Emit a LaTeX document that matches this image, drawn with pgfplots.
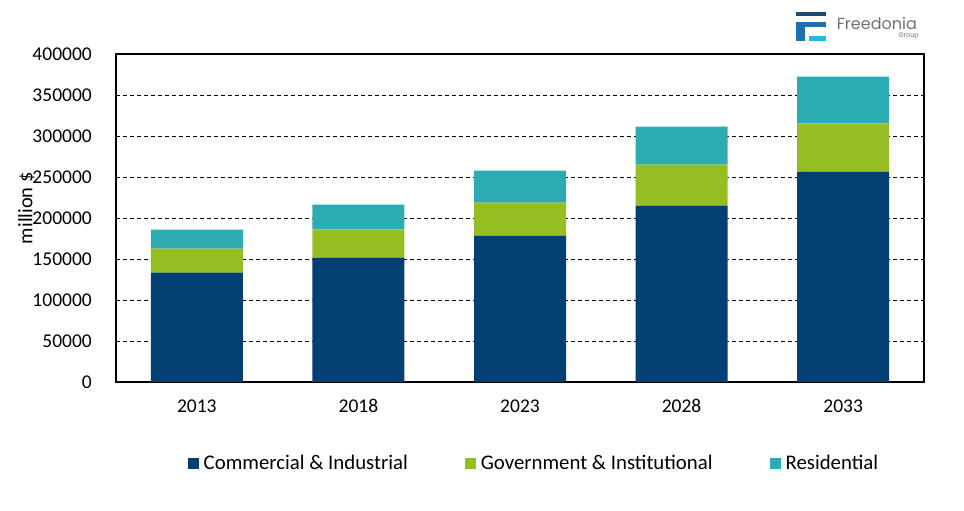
\documentclass[border=0pt]{standalone}
\usepackage{fontspec}
\setmainfont{Carlito}
\newfontfamily\logofont{Poppins}
\usepackage{pgfplots}
\pgfplotsset{compat=1.18}
\definecolor{comm}{HTML}{023F73}
\definecolor{gov}{HTML}{94BE21}
\definecolor{res}{HTML}{2DABB2}
\definecolor{lnavy}{HTML}{1B4A72}
\definecolor{lblue}{HTML}{1F6FB3}
\definecolor{lcyan}{HTML}{22B8E0}
\definecolor{lgray}{HTML}{707070}
\begin{document}
\begin{tikzpicture}[x=1pt,y=1pt]
\path[use as bounding box] (0,0) rectangle (964,511);
% logo
\fill[lnavy] (796,511-11.7) rectangle (826,511-15.7);
\fill[lblue] (796,511-22.3) rectangle (826,511-27);
\fill[lblue] (796,511-22.3) rectangle (804.7,511-41);
\fill[lcyan] (808.7,511-36.3) rectangle (826,511-41);
\node[anchor=base west, inner sep=0pt, text=lgray, font=\logofont\fontsize{16}{18}\selectfont] at (836.7,511-29.3) {Freedonia};
\node[anchor=base east, inner sep=0pt, text=lgray, font=\logofont\fontsize{6.5}{7}\selectfont] at (919,511-37.7) {Group};
\begin{axis}[
  at={(116pt,129pt)}, anchor=south west,
  scale only axis, width=808pt, height=328pt,
  ybar stacked, bar width=92pt,
  xmin=-0.5, xmax=4.5, ymin=0, ymax=400000,
  xtick={0,1,2,3,4},
  xticklabels={2013,2018,2023,2028,2033},
  ytick={0,50000,100000,150000,200000,250000,300000,350000,400000},
  scaled y ticks=false,
  /pgf/number format/assume math mode=true,
  yticklabel={\pgfmathprintnumber[fixed,1000 sep={}]{\tick}},
  major tick length=0pt,
  ymajorgrids,
  grid style={black, line width=0.9pt, dash pattern=on 4pt off 3pt},
  axis line style={line width=1.4pt},
  tick label style={font=\fontsize{19.5}{22}\selectfont},
  yticklabel style={inner sep=0pt, anchor=east, xshift=-24pt},
  xticklabel style={inner sep=0pt, anchor=base, yshift=-31pt},
  ylabel={million \$},
  ylabel style={font=\fontsize{20.5}{22}\selectfont, at={(axis description cs:-0.111,0.53)}, anchor=center, inner sep=0pt},
  legend columns=3,
  legend style={at={(axis description cs:0.516,-0.247)}, anchor=center, draw=none,
    font=\fontsize{20.8}{22}\selectfont, inner sep=0pt,
    nodes={inner sep=0pt},
    /tikz/every even column/.append style={column sep=57pt}},
  legend cell align=left,
  legend image code/.code={\fill[#1,draw=none] (0pt,-5.5pt) rectangle (11pt,5.5pt); \path (16pt,0pt);},
]
\addplot[fill=comm, draw=none] coordinates {(0,133300) (1,151600) (2,178400) (3,215000) (4,256500)};
\addplot[fill=gov, draw=none] coordinates {(0,29300) (1,34500) (2,40300) (3,50000) (4,58900)};
\addplot[fill=res, draw=none] coordinates {(0,23100) (1,30100) (2,39000) (3,46300) (4,56900)};
\legend{Commercial \& Industrial, Government \& Institutional, Residential}
\end{axis}
\end{tikzpicture}
\end{document}
